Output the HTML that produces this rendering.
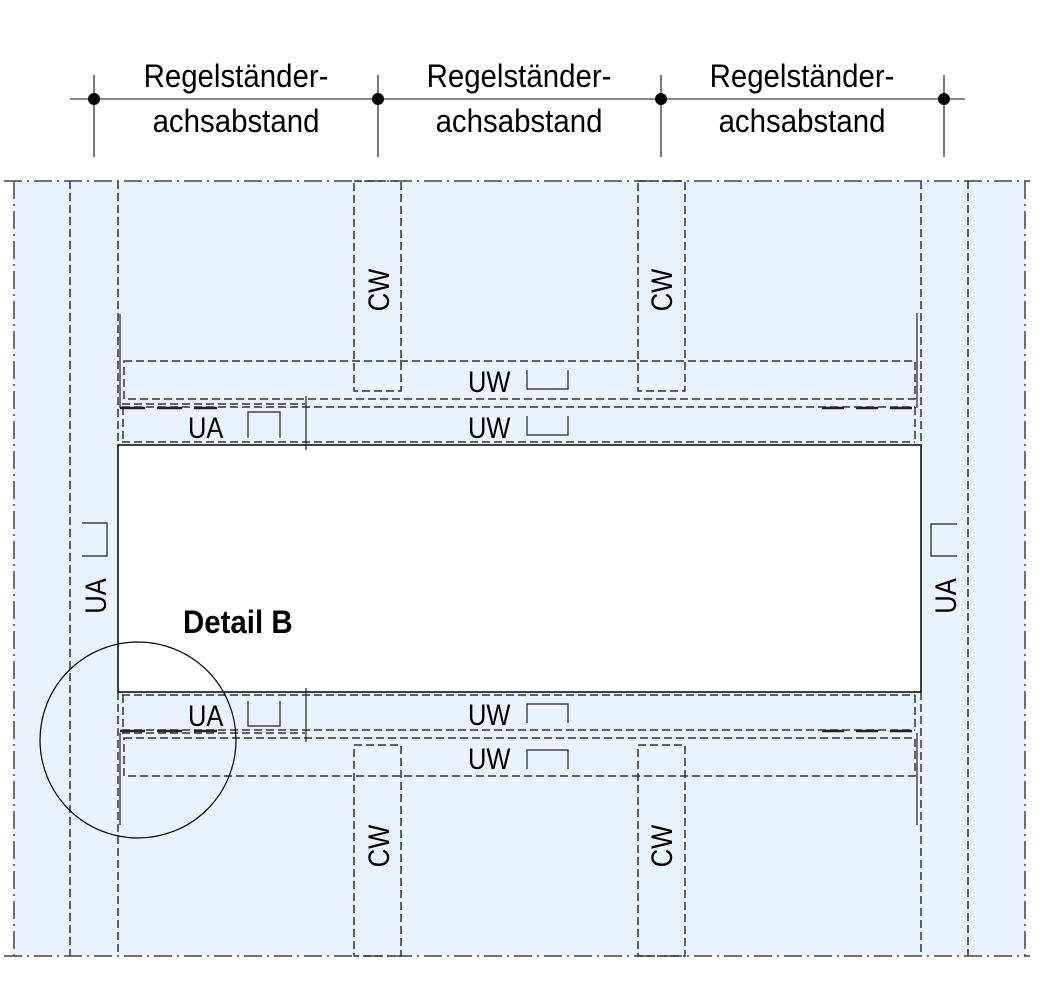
<!DOCTYPE html>
<html><head><style>body{margin:0;background:#fff}svg{display:block}</style></head><body>
<svg width="1039" height="999" viewBox="0 0 1039 999" xmlns="http://www.w3.org/2000/svg" font-family="Liberation Sans, Arial, sans-serif">
<rect x="14" y="181" width="1011" height="775" fill="#e8f3fd"/>
<rect x="118" y="445" width="803" height="247" fill="#fff" stroke="#000" stroke-width="1.5"/>
<g fill="none" stroke="#444" stroke-width="1.5">
<g stroke-dasharray="18,5,2,5">
<line x1="4" y1="181" x2="1030" y2="181"/>
<line x1="4" y1="956" x2="1030" y2="956"/>
<line x1="14" y1="181" x2="14" y2="956"/>
<line x1="1025" y1="181" x2="1025" y2="956"/>
</g>
<g stroke-dasharray="8,4" stroke="#333">
<line x1="70" y1="181" x2="70" y2="956"/>
<line x1="118" y1="181" x2="118" y2="445"/>
<line x1="118" y1="692" x2="118" y2="956"/>
<line x1="921" y1="181" x2="921" y2="445"/>
<line x1="921" y1="692" x2="921" y2="956"/>
<line x1="968" y1="181" x2="968" y2="956"/>
<rect x="354" y="181" width="47" height="210"/>
<rect x="638" y="181" width="47" height="210"/>
<rect x="354" y="745" width="47" height="211"/>
<rect x="638" y="745" width="47" height="211"/>
<rect x="124" y="361" width="791" height="38"/>
<rect x="124" y="738" width="791" height="38"/>
<line x1="122" y1="407" x2="915" y2="407"/>
<line x1="122" y1="442" x2="915" y2="442"/>
<line x1="122" y1="695" x2="915" y2="695"/>
<line x1="122" y1="730" x2="915" y2="730"/>
<line x1="122" y1="733" x2="305" y2="733"/>
<line x1="122" y1="404" x2="305" y2="404"/>
<line x1="123" y1="407" x2="123" y2="442"/>
<line x1="915" y1="407" x2="915" y2="442"/>
<line x1="123" y1="695" x2="123" y2="730"/>
<line x1="915" y1="695" x2="915" y2="730"/>
</g>
</g>
<g stroke="#222" stroke-width="1.2" fill="none">
<line x1="306" y1="396" x2="306" y2="450"/>
<line x1="306" y1="688" x2="306" y2="742"/>
<line x1="120" y1="314" x2="120" y2="408"/>
<line x1="120" y1="733" x2="120" y2="825"/>
<line x1="917" y1="313" x2="917" y2="408"/>
<line x1="917" y1="733" x2="917" y2="825"/>
<line x1="120" y1="408" x2="217" y2="408" stroke-width="2.5" stroke-dasharray="25,12"/>
<line x1="120" y1="731" x2="217" y2="731" stroke-width="2.5" stroke-dasharray="25,12"/>
<line x1="822" y1="408" x2="917" y2="408" stroke-width="2.5" stroke-dasharray="22,12"/>
<line x1="822" y1="731" x2="917" y2="731" stroke-width="2.5" stroke-dasharray="22,12"/>
<circle cx="138" cy="740" r="98" stroke="#000"/>
<path d="M248 438V412H280V438"/>
<path d="M248 701V726H280V701"/>
<path d="M527 370V389H568V370"/>
<path d="M527 416V435H568V416"/>
<path d="M527 769V750H568V769"/>
<path d="M527 723V704H568V723"/>
<path d="M82 523H107V556H82"/>
<path d="M957 524H931V556H957"/>
<line x1="70" y1="99" x2="965" y2="99" stroke="#444"/>
<line x1="94" y1="75" x2="94" y2="157"/>
<line x1="378" y1="75" x2="378" y2="157"/>
<line x1="661" y1="75" x2="661" y2="157"/>
<line x1="944" y1="75" x2="944" y2="157"/>
</g>
<g fill="#000">
<circle cx="94" cy="99" r="6"/><circle cx="378" cy="99" r="6"/><circle cx="661" cy="99" r="6"/><circle cx="944" cy="99" r="6"/>
</g>
<g font-size="32" text-anchor="middle" fill="#000">
<text transform="translate(236,87) scale(0.92,1)">Regelständer-</text><text transform="translate(236,132) scale(0.92,1)">achsabstand</text>
<text transform="translate(519,87) scale(0.92,1)">Regelständer-</text><text transform="translate(519,132) scale(0.92,1)">achsabstand</text>
<text transform="translate(802,87) scale(0.92,1)">Regelständer-</text><text transform="translate(802,132) scale(0.92,1)">achsabstand</text>
</g>
<g font-size="30" fill="#000">
<text transform="translate(468,392) scale(0.85,1)">UW</text>
<text transform="translate(468,438) scale(0.85,1)">UW</text>
<text transform="translate(468,725) scale(0.85,1)">UW</text>
<text transform="translate(468,769) scale(0.85,1)">UW</text>
<text transform="translate(188,438) scale(0.85,1)">UA</text>
<text transform="translate(188,726) scale(0.85,1)">UA</text>
<text transform="translate(106,596) rotate(-90) scale(0.85,1)" text-anchor="middle">UA</text>
<text transform="translate(956,596) rotate(-90) scale(0.85,1)" text-anchor="middle">UA</text>
<text transform="translate(389,290) rotate(-90) scale(0.85,1)" text-anchor="middle">CW</text>
<text transform="translate(672,290) rotate(-90) scale(0.85,1)" text-anchor="middle">CW</text>
<text transform="translate(389,846) rotate(-90) scale(0.85,1)" text-anchor="middle">CW</text>
<text transform="translate(672,846) rotate(-90) scale(0.85,1)" text-anchor="middle">CW</text>
<text transform="translate(183,633) scale(0.92,1)" font-weight="bold" font-size="32">Detail B</text>
</g>
</svg>
</body></html>
